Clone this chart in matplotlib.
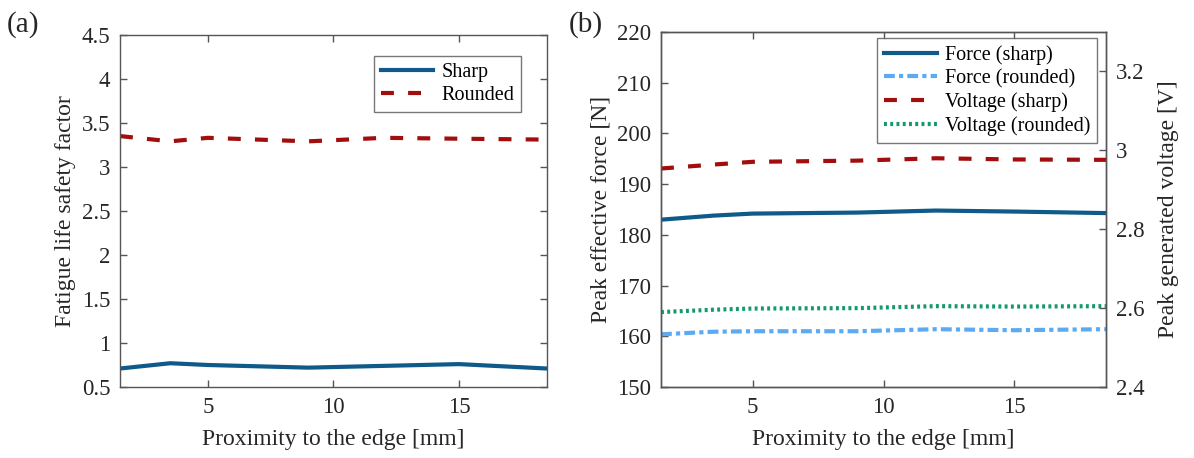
import numpy as np
import matplotlib
matplotlib.use('Agg')
import matplotlib.pyplot as plt

plt.rcParams['font.family'] = ['Liberation Serif', 'DejaVu Serif']
plt.rcParams['font.size'] = 16

# (a) fatigue life safety factor
x_a = [1.5, 3.5, 5, 9, 12, 15, 18.5]
sharp_a = [0.71, 0.77, 0.75, 0.72, 0.74, 0.76, 0.71]
rounded_a = [3.35, 3.29, 3.33, 3.29, 3.33, 3.32, 3.31]

# (b) peak force [N] and voltage [V]
x_b = [1.5, 3.5, 5, 9, 12, 15, 18.5]
force_sharp = [183.0, 183.8, 184.2, 184.4, 184.8, 184.6, 184.3]
force_rounded = [160.4, 160.9, 161.0, 161.0, 161.4, 161.2, 161.4]
volt_sharp = [2.954, 2.964, 2.971, 2.974, 2.980, 2.977, 2.976]
volt_rounded = [2.590, 2.596, 2.599, 2.600, 2.605, 2.604, 2.605]

c_blue = '#0f5a88'
c_red = '#a20e0e'
c_lblue = '#5cabf2'
c_green = '#13996a'
c_axis = '#555555'
c_text = '#262626'

fig = plt.figure(figsize=(11.94, 4.58), dpi=100)
ax1 = fig.add_axes([0.1005, 0.155, 0.3576, 0.769])
ax2 = fig.add_axes([0.5536, 0.155, 0.3727, 0.775])


def style(ax):
    for s in ax.spines.values():
        s.set_color(c_axis)
        s.set_linewidth(1.0)
    ax.tick_params(direction='in', length=5, width=1.0, color=c_axis,
                   labelcolor=c_text, labelsize=16.5, pad=7)


# --- panel a
ax1.plot(x_a, sharp_a, color=c_blue, lw=3.0, label='Sharp')
ax1.plot(x_a, rounded_a, color=c_red, lw=3.0, dashes=(3.1, 3.4), label='Rounded')
ax1.set_xlim(1.5, 18.5)
ax1.set_ylim(0.5, 4.5)
ax1.set_xticks([5, 10, 15])
ax1.set_yticks(np.arange(0.5, 4.51, 0.5))
ax1.set_yticklabels(['0.5', '1', '1.5', '2', '2.5', '3', '3.5', '4', '4.5'])
style(ax1)
ax1.tick_params(top=True, right=True)
ax1.set_xlabel('Proximity to the edge [mm]', color=c_text, fontsize=17, labelpad=8)
ax1.set_ylabel('Fatigue life safety factor', color=c_text, fontsize=17)
leg = ax1.legend(loc='upper right', bbox_to_anchor=(0.94, 0.94), fontsize=14.5,
                 fancybox=False, edgecolor=c_axis, handlelength=2.6,
                 borderaxespad=0, handletextpad=0.4, labelspacing=0.2,
                 borderpad=0.35)
leg.get_frame().set_linewidth(1.0)
fig.text(0.006, 0.93, '(a)', fontsize=21, color=c_text)

# --- panel b
l1, = ax2.plot(x_b, force_sharp, color=c_blue, lw=3.0, label='Force (sharp)')
l2, = ax2.plot(x_b, force_rounded, color=c_lblue, lw=3.0, dashes=(2.6, 1.0, 1.0, 1.0),
               label='Force (rounded)')
ax2.set_xlim(1.5, 18.5)
ax2.set_ylim(150, 220)
ax2.set_xticks([5, 10, 15])
ax2.set_yticks(np.arange(150, 221, 10))
style(ax2)
ax2.tick_params(top=True, right=False)
ax2.set_xlabel('Proximity to the edge [mm]', color=c_text, fontsize=17, labelpad=8)
ax2.set_ylabel('Peak effective force [N]', color=c_text, fontsize=17)

ax3 = ax2.twinx()
l3, = ax3.plot(x_b, volt_sharp, color=c_red, lw=3.0, dashes=(3.1, 3.4),
               label='Voltage (sharp)')
l4, = ax3.plot(x_b, volt_rounded, color=c_green, lw=3.0, dashes=(0.7, 0.8),
               label='Voltage (rounded)')
ax3.set_ylim(2.4, 3.3)
ax3.set_yticks([2.4, 2.6, 2.8, 3.0, 3.2])
ax3.set_yticklabels(['2.4', '2.6', '2.8', '3', '3.2'])
style(ax3)
ax3.set_ylabel('Peak generated voltage [V]', color=c_text, fontsize=17, labelpad=10)

leg2 = ax3.legend(handles=[l1, l2, l3, l4], loc='upper right',
                  bbox_to_anchor=(0.98, 0.983), fontsize=14.5, fancybox=False,
                  edgecolor=c_axis, handlelength=2.6, borderaxespad=0,
                  handletextpad=0.4, labelspacing=0.2, borderpad=0.35)
leg2.get_frame().set_linewidth(1.0)
fig.text(0.476, 0.93, '(b)', fontsize=21, color=c_text)

fig.savefig('out.png', dpi=100)
